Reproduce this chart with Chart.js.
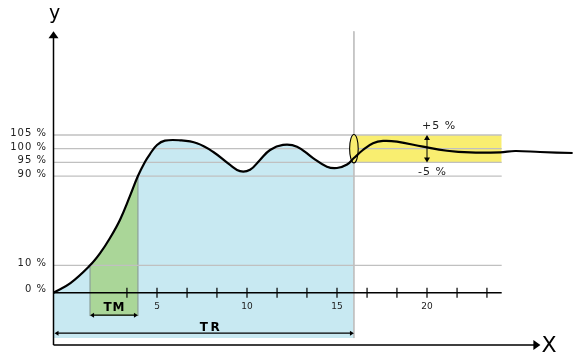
<!DOCTYPE html>
<html>
<head>
<meta charset="utf-8">
<script src="https://cdn.jsdelivr.net/npm/chart.js@4/dist/chart.umd.min.js"></script>
<style>
  body { margin: 0; background: #fff; }
  #c { display: block; }
</style>
</head>
<body>
<canvas id="c" width="573" height="353"></canvas>
<script>
// step response (x in time units, y in drawing level units)
const curveX = [-0.75, 0.17, 1.28, 1.83, 2.39, 2.94, 3.5, 3.94, 4.33, 4.61, 5.0, 5.44, 6.28, 7.22, 8.11, 9.06, 9.61, 10.17, 10.72, 11.28, 12.0, 12.78, 13.67, 14.44, 15.0, 15.56, 15.94, 16.44, 17.0, 17.56, 18.33, 19.78, 21.11, 22.39, 24.06, 24.9, 26.28, 28.1];
const curveY = [0, 6.5, 19, 27.3, 38.0, 50.5, 67.2, 81, 90.8, 96.3, 102.6, 105.6, 105.8, 103.75, 97.9, 88.7, 84.4, 85.4, 92.2, 99.1, 102.6, 101.4, 93.5, 87.5, 86.6, 89.0, 93.5, 99.1, 103.75, 105.4, 104.9, 101.4, 98.6, 97.4, 97.5, 98.4, 97.7, 97.0];

// percent levels and where they sit on the (schematic) y axis
const yTickValues = [0, 19, 81, 90.5, 100, 109.5];
const yTickLabels = ['0 %', '10 %', '90 %', '95 %', '100 %', '105 %'];
const gridLevels = [19, 81, 90.5, 100, 109.5];

const xTickMarks = [3.33, 5, 6.67, 8.33, 10, 11.67, 13.33, 15, 16.67, 18.33, 20, 21.67, 23.33];
const xTickLabels = [5, 10, 15, 20];

const tmStart = 1.28, tmEnd = 3.94;   // 10 % .. 90 %
const trEnd = 15.94;                  // settling time
const bandTop = 109.5, bandBottom = 90.5;
const axisLeft = -0.75, innerAxisEnd = 24.15, xArrowEnd = 26.3;
const yArrowTop = 181.5, xArrowLevel = -36.3;
const tmArrowLevel = -15.6, trArrowLevel = -28.1;
const greenBottom = -16.2, blueBottom = -31.5;

const curvePts = curveX.map((x, i) => ({ x: x, y: curveY[i] }));

const BLUE = 'rgb(200,233,242)';
const GREEN = 'rgb(170,214,152)';
const YELLOW = 'rgb(249,238,112)';
const GRID = 'rgb(192,192,192)';
const NONE = 'rgba(0,0,0,0)';
const TENSION = 0.4;

const datasets = [];

// the curve itself, on top
datasets.push({
    data: curvePts,
    borderColor: '#000',
    borderWidth: 2.2,
    tension: TENSION,
    pointRadius: 0,
    fill: false,
    order: 0
});

// horizontal level lines
gridLevels.forEach(v => {
    datasets.push({
        data: [{ x: axisLeft, y: v }, { x: innerAxisEnd, y: v }],
        borderColor: GRID,
        borderWidth: 1.3,
        pointRadius: 0,
        fill: false,
        order: 1
    });
});

// settling time line and edges of the TM area
datasets.push({
    data: [{ x: trEnd, y: yArrowTop }, { x: trEnd, y: blueBottom }],
    borderColor: GRID, borderWidth: 1, pointRadius: 0, fill: false, order: 1
});
datasets.push({
    data: [{ x: tmStart, y: 19 }, { x: tmStart, y: greenBottom }],
    borderColor: 'rgba(140,160,150,0.5)', borderWidth: 1, pointRadius: 0, fill: false, order: 1
});
datasets.push({
    data: [{ x: tmEnd, y: 81 }, { x: tmEnd, y: greenBottom }],
    borderColor: 'rgba(140,160,150,0.5)', borderWidth: 1, pointRadius: 0, fill: false, order: 1
});

// +/- 5 % band
datasets.push({
    data: [{ x: trEnd, y: bandTop }, { x: innerAxisEnd, y: bandTop }],
    borderColor: NONE,
    backgroundColor: YELLOW,
    pointRadius: 0,
    fill: { value: bandBottom },
    order: 2
});

// TM area
datasets.push({
    data: curvePts,
    borderColor: NONE,
    tension: TENSION,
    pointRadius: 0,
    fill: { value: greenBottom },
    backgroundColor: GREEN,
    segment: {
        backgroundColor: c => (c.p0.parsed.x >= tmStart - 0.01 && c.p1.parsed.x <= tmEnd + 0.01) ? GREEN : NONE
    },
    order: 3
});

// TR area
datasets.push({
    data: curvePts,
    borderColor: NONE,
    tension: TENSION,
    pointRadius: 0,
    fill: { value: blueBottom },
    backgroundColor: BLUE,
    segment: {
        backgroundColor: c => (c.p1.parsed.x <= trEnd + 0.01) ? BLUE : NONE
    },
    order: 4
});

function arrowHead(ctx, x, y, dir, len, half) {
    ctx.beginPath();
    if (dir === 'up') { ctx.moveTo(x, y); ctx.lineTo(x - half, y + len); ctx.lineTo(x + half, y + len); }
    if (dir === 'down') { ctx.moveTo(x, y); ctx.lineTo(x - half, y - len); ctx.lineTo(x + half, y - len); }
    if (dir === 'right') { ctx.moveTo(x, y); ctx.lineTo(x - len, y - half); ctx.lineTo(x - len, y + half); }
    if (dir === 'left') { ctx.moveTo(x, y); ctx.lineTo(x + len, y - half); ctx.lineTo(x + len, y + half); }
    ctx.closePath();
    ctx.fill();
}

const decor = {
    id: 'decor',
    beforeDatasetDraw(chart, args) {
        if (args.index !== 0) return;
        // ellipse marking the entry into the band
        const ctx = chart.ctx, xs = chart.scales.x, ys = chart.scales.y;
        const cx = xs.getPixelForValue(trEnd), top = ys.getPixelForValue(bandTop), bot = ys.getPixelForValue(bandBottom);
        ctx.save();
        ctx.beginPath();
        ctx.ellipse(cx, (top + bot) / 2, 4.3, (bot - top) / 2 + 0.5, 0, 0, Math.PI * 2);
        ctx.fillStyle = YELLOW;
        ctx.fill();
        ctx.strokeStyle = '#000';
        ctx.lineWidth = 1.1;
        ctx.stroke();
        ctx.restore();
    },
    afterDatasetsDraw(chart) {
        const ctx = chart.ctx, xs = chart.scales.x, ys = chart.scales.y;
        const px = v => xs.getPixelForValue(v), py = v => ys.getPixelForValue(v);
        ctx.save();
        ctx.fillStyle = '#000';
        ctx.strokeStyle = '#000';

        // main axes with arrows
        const ax = px(axisLeft), ay = py(xArrowLevel);
        ctx.lineWidth = 1.5;
        ctx.beginPath();
        ctx.moveTo(ax, ay); ctx.lineTo(ax, py(yArrowTop) + 5);
        ctx.moveTo(ax, ay); ctx.lineTo(px(xArrowEnd) - 5, ay);
        ctx.stroke();
        arrowHead(ctx, ax, py(yArrowTop), 'up', 7, 5);
        arrowHead(ctx, px(xArrowEnd), ay, 'right', 7, 5);

        // inner time axis at 0 %
        const zy = py(0);
        ctx.lineWidth = 1.5;
        ctx.beginPath();
        ctx.moveTo(ax, zy); ctx.lineTo(px(innerAxisEnd), zy);
        ctx.stroke();
        ctx.lineWidth = 1.2;
        ctx.beginPath();
        xTickMarks.forEach(t => { ctx.moveTo(px(t), zy - 5); ctx.lineTo(px(t), zy + 5); });
        ctx.stroke();

        ctx.fillStyle = '#222';
        ctx.font = '9px "DejaVu Sans"';
        ctx.textAlign = 'center';
        ctx.textBaseline = 'middle';
        xTickLabels.forEach(t => ctx.fillText(String(t), px(t), zy + 14));

        // level labels
        ctx.font = '10px "DejaVu Sans"';
        ctx.letterSpacing = '1px';
        ctx.textAlign = 'right';
        yTickValues.forEach((v, i) => ctx.fillText(yTickLabels[i], 47, py(v) - (v === 0 ? 3 : 1.5)));
        ctx.letterSpacing = '0px';

        // TM and TR double arrows
        ctx.fillStyle = '#000';
        ctx.lineWidth = 1.2;
        const tmY = py(tmArrowLevel), trY = py(trArrowLevel);
        ctx.beginPath();
        ctx.moveTo(px(tmStart) + 3, tmY); ctx.lineTo(px(tmEnd) - 3, tmY);
        ctx.moveTo(ax + 3, trY); ctx.lineTo(px(trEnd) - 3, trY);
        ctx.stroke();
        arrowHead(ctx, px(tmStart), tmY, 'left', 4, 2.5);
        arrowHead(ctx, px(tmEnd), tmY, 'right', 4, 2.5);
        arrowHead(ctx, ax + 1, trY, 'left', 4, 2.5);
        arrowHead(ctx, px(trEnd), trY, 'right', 4, 2.5);

        ctx.font = 'bold 12px "DejaVu Sans"';
        ctx.textAlign = 'center';
        ctx.letterSpacing = '1px';
        ctx.fillText('TM', (px(tmStart) + px(tmEnd)) / 2 + 0.5, tmY - 7);
        ctx.letterSpacing = '2.5px';
        ctx.fillText('TR', 211, trY - 5);
        ctx.letterSpacing = '0px';

        // +/- 5 % arrow
        const bx = px(20), bt = py(bandTop), bb = py(bandBottom);
        ctx.lineWidth = 1;
        ctx.beginPath();
        ctx.moveTo(bx, bt + 4); ctx.lineTo(bx, bb - 4);
        ctx.stroke();
        arrowHead(ctx, bx, bt, 'up', 5, 3);
        arrowHead(ctx, bx, bb, 'down', 5, 3);
        ctx.fillStyle = '#222';
        ctx.font = '11px "DejaVu Sans"';
        ctx.letterSpacing = '1px';
        ctx.textAlign = 'left';
        ctx.fillText('+5 %', bx - 5, bt - 9);
        ctx.fillText('-5 %', bx - 9, bb + 10);
        ctx.letterSpacing = '0px';

        // axis names
        ctx.fillStyle = '#000';
        ctx.font = '19px "DejaVu Sans"';
        ctx.textAlign = 'center';
        ctx.fillText('y', ax + 1, 14);
        ctx.font = '22px "DejaVu Sans"';
        ctx.textAlign = 'left';
        ctx.fillText('X', px(xArrowEnd) + 1, ay + 1);
        ctx.restore();
    }
};

new Chart(document.getElementById('c'), {
    type: 'line',
    data: { datasets: datasets },
    options: {
        responsive: false,
        animation: false,
        devicePixelRatio: 1,
        layout: { padding: { left: 53.5, right: 0.2, top: 29.9, bottom: 0.1 } },
        scales: {
            x: { type: 'linear', min: -0.75, max: 28.1, display: false },
            y: { type: 'linear', min: -41.8, max: 182.5, display: false }
        },
        plugins: {
            legend: { display: false },
            tooltip: { enabled: false }
        }
    },
    plugins: [decor]
});
</script>
</body>
</html>
